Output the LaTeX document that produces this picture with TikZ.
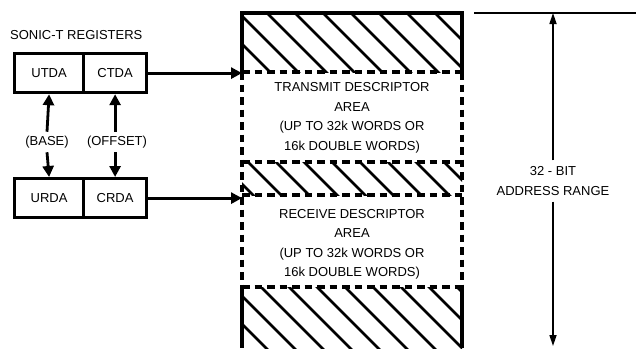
\documentclass[tikz,border=0pt]{standalone}
\usepackage{fontspec}
\setmainfont{Liberation Sans}
\usetikzlibrary{arrows.meta}
\begin{document}
\begin{tikzpicture}[x=1pt,y=-1pt, font=\fontsize{13}{19.5}\selectfont,
  reg/.style={draw, line width=3.2pt, minimum height=39pt, inner sep=0pt, anchor=north west},
  arr/.style={line width=2.8pt, -{Triangle[length=11pt,width=11pt]}},
  thinarr/.style={line width=1.6pt, -{Triangle[length=11pt,width=7pt]}},
  hatch/.style={line width=2.5pt},
  solidb/.style={line width=3.4pt},
  dashb/.style={line width=3.4pt, dash pattern=on 7.5pt off 5pt},
  lbl/.style={align=center, inner sep=2pt}]
\useasboundingbox (0,0) rectangle (636,348);
% hatched regions
\begin{scope}
  \clip (242,13) rectangle (462,72);
  \foreach \a in {-138,-110,...,470} \draw[hatch] (\a,0) -- ++(360,360);
\end{scope}
\begin{scope}
  \clip (242,162) rectangle (462,195);
  \foreach \a in {-138,-110,...,470} \draw[hatch] (\a,0) -- ++(360,360);
\end{scope}
\begin{scope}
  \clip (242,287) rectangle (462,348);
  \foreach \a in {-138,-110,...,470} \draw[hatch] (\a,0) -- ++(360,360);
\end{scope}
% borders
\draw[solidb, line cap=rect] (242,72) -- (242,13) -- (462,13) -- (462,72);
\draw[solidb] (242,287) -- (242,348);
\draw[solidb] (462,287) -- (462,348);
\draw[dashb] (242,72) -- (462,72);
\draw[dashb] (242,162) -- (462,162);
\draw[dashb] (242,195) -- (462,195);
\draw[dashb] (242,287) -- (462,287);
\draw[dashb] (242,72) -- (242,287);
\draw[dashb] (462,72) -- (462,287);
\coordinate (tx) at (242,72);
\coordinate (rx) at (242,195);
% area texts
\node[lbl] (tdesc) at (352,118) {TRANSMIT DESCRIPTOR\\AREA\\(UP TO 32k WORDS OR\\16k DOUBLE WORDS)};
\node[lbl] (rdesc) at (352,244.5) {RECEIVE DESCRIPTOR\\AREA\\(UP TO 32k WORDS OR\\16k DOUBLE WORDS)};
% registers
\node[lbl, anchor=west] (title) at (8,35) {SONIC-T REGISTERS};
\node[reg, minimum width=69pt] (utda) at (13,52) {UTDA};
\node[reg, minimum width=63pt] (ctda) at (82,52) {CTDA};
\node[reg, minimum width=69pt] (urda) at (13,177) {URDA};
\node[reg, minimum width=63pt] (crda) at (82,177) {CRDA};
\node[lbl, inner ysep=4pt] (base) at (47,142) {(BASE)};
\node[lbl, inner ysep=4pt] (offset) at (117,142) {(OFFSET)};
\draw[arr] (base.north) -- (utda.south);
\draw[arr] (base.south) -- (urda.north);
\draw[arr] (base.north -| ctda.south) -- (ctda.south);
\draw[arr] (base.south -| crda.north) -- (crda.north);
\draw[arr] (ctda.east) -- (ctda.east -| tx);
\draw[arr] (crda.east) -- (crda.east -| rx);
% address range
\draw[line width=2.8pt] (474,13) -- (636,13);
\coordinate (rtop) at (553,13);
\coordinate (rbot) at (553,346);
\node[lbl, inner ysep=6pt] (range) at (553,181) {32 - BIT\\ADDRESS RANGE};
\draw[thinarr] (range.north) -- (rtop);
\draw[thinarr] (range.south) -- (rbot);
\end{tikzpicture}
\end{document}
